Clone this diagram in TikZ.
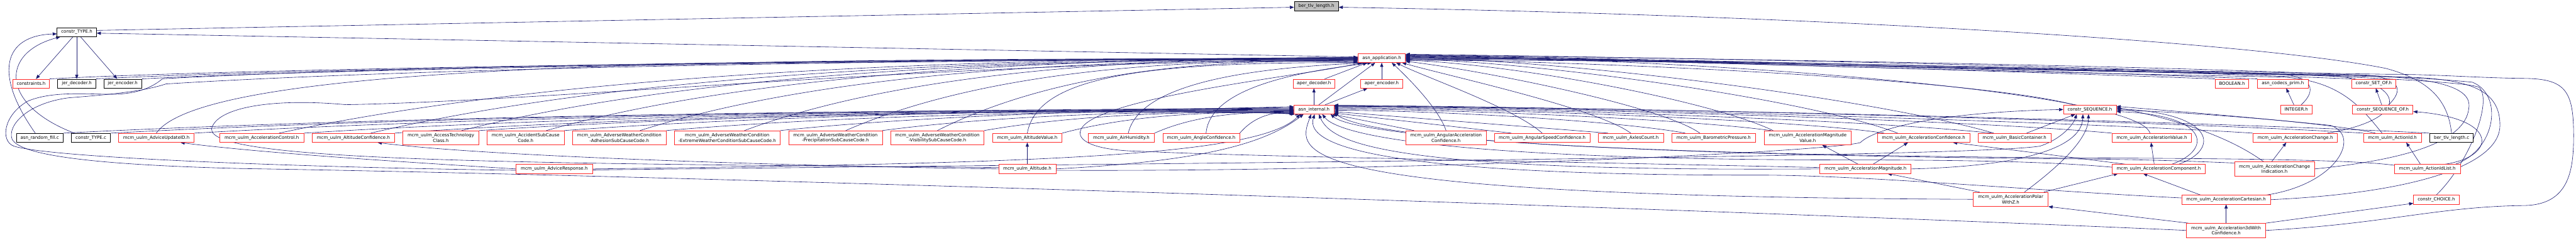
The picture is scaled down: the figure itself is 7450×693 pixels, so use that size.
\documentclass[tikz,border=0pt]{standalone}
\usepackage{fontspec}
\newfontfamily\nf{DejaVu Sans}
\usetikzlibrary{arrows.meta,calc}
\definecolor{ec}{HTML}{191970}
\definecolor{nr}{HTML}{FF2A2A}
\definecolor{gf}{HTML}{BFBFBF}
\pgfdeclarelayer{bg}
\pgfsetlayers{bg,main}
\begin{document}
\begin{tikzpicture}[x=0.5pt,y=0.5pt,
 nb/.style={draw, line width=0.6pt, fill=white, inner xsep=2pt, inner ysep=0pt, minimum height=13pt, align=center, font=\nf\fontsize{6.4}{7.5}\selectfont},
 rn/.style={nb, draw=nr},
 bn/.style={nb, draw=black},
 gn/.style={nb, draw=black, fill=gf},
 dl/.style={minimum height=20.5pt},
 e/.style={draw=ec, line width=0.55pt, -{Triangle[length=6pt,width=4.6pt]}}]
\useasboundingbox (0,0) rectangle (7450,693);
% ---------- nodes
\node[gn, minimum width=64pt] (berh) at (3807,675) {ber\_tlv\_length.h};
\node[bn, minimum width=57pt] (ctypeh) at (222,600) {constr\_TYPE.h};
\node[rn, minimum width=68.5pt] (app) at (3996,525) {asn\_application.h};
\node[rn, minimum width=53pt] (constraints) at (90,451) {constraints.h};
\node[bn, minimum width=55pt] (jerdec) at (222,451) {jer\_decoder.h};
\node[bn, minimum width=55pt] (jerenc) at (355,451) {jer\_encoder.h};
\node[rn, minimum width=60.5pt] (aperdec) at (3800,451) {aper\_decoder.h};
\node[rn, minimum width=60.5pt] (aperenc) at (3996,451) {aper\_encoder.h};
\node[rn, minimum width=48.5pt] (boolean) at (6455,451) {BOOLEAN.h};
\node[rn, minimum width=73pt] (codecsprim) at (6602,451) {asn\_codecs\_prim.h};
\node[rn, minimum width=64pt] (setof) at (6865,451) {constr\_SET\_OF.h};
\node[rn, minimum width=57.5pt] (internal) at (3800,376) {asn\_internal.h};
\node[rn, minimum width=76.5pt] (cseq) at (6044,376) {constr\_SEQUENCE.h};
\node[rn, minimum width=45pt] (integer) at (6641,376) {INTEGER.h};
\node[rn, minimum width=87.5pt] (seqof) at (6891,376) {constr\_SEQUENCE\_OF.h};
\node[bn, minimum width=67.5pt] (randfill) at (115,294) {asn\_random\_fill.c};
\node[bn, minimum width=56.5pt] (ctypec) at (263,294) {constr\_TYPE.c};
\node[rn, minimum width=109.5pt] (adviceupd) at (452,294) {mcm\_uulm\_AdviceUpdateID.h};
\node[rn, minimum width=121.5pt] (accctrl) at (757,294) {mcm\_uulm\_AccelerationControl.h};
\node[rn, minimum width=119pt] (altconf) at (1022,294) {mcm\_uulm\_AltitudeConfidence.h};
\node[rn, dl, minimum width=110.5pt] (accesstech) at (1275,294) {mcm\_uulm\_AccessTechnology\\Class.h};
\node[rn, dl, minimum width=111.5pt] (accident) at (1520,294) {mcm\_uulm\_AccidentSubCause\\Code.h};
\node[rn, dl, minimum width=135.5pt] (adhesion) at (1791,294) {mcm\_uulm\_AdverseWeatherCondition\\-AdhesionSubCauseCode.h};
\node[rn, dl, minimum width=153.5pt] (extreme) at (2103,294) {mcm\_uulm\_AdverseWeatherCondition\\-ExtremeWeatherConditionSubCauseCode.h};
\node[rn, dl, minimum width=135.5pt] (precip) at (2416,294) {mcm\_uulm\_AdverseWeatherCondition\\-PrecipitationSubCauseCode.h};
\node[rn, dl, minimum width=135pt] (visib) at (2711,294) {mcm\_uulm\_AdverseWeatherCondition\\-VisibilitySubCauseCode.h};
\node[rn, minimum width=100.5pt] (altval) at (2971,294) {mcm\_uulm\_AltitudeValue.h};
\node[rn, minimum width=95.5pt] (airhum) at (3243,294) {mcm\_uulm\_AirHumidity.h};
\node[rn, minimum width=111pt] (angleconf) at (3474,294) {mcm\_uulm\_AngleConfidence.h};
\node[rn, dl, minimum width=117pt] (angaccconf) at (4182,294) {mcm\_uulm\_AngularAcceleration\\Confidence.h};
\node[rn, minimum width=138.5pt] (angspd) at (4460,294) {mcm\_uulm\_AngularSpeedConfidence.h};
\node[rn, minimum width=94.5pt] (axles) at (4716,294) {mcm\_uulm\_AxlesCount.h};
\node[rn, minimum width=121.5pt] (baro) at (4956,294) {mcm\_uulm\_BarometricPressure.h};
\node[rn, dl, minimum width=125.5pt] (accmagval) at (5228,294) {mcm\_uulm\_AccelerationMagnitude\\Value.h};
\node[rn, minimum width=133.5pt] (accconf) at (5563,294) {mcm\_uulm\_AccelerationConfidence.h};
\node[rn, minimum width=105pt] (basic) at (5826,294) {mcm\_uulm\_BasicContainer.h};
\node[rn, minimum width=115pt] (accval) at (6223,294) {mcm\_uulm\_AccelerationValue.h};
\node[rn, minimum width=122pt] (accchg) at (6638,294) {mcm\_uulm\_AccelerationChange.h};
\node[rn, minimum width=83.5pt] (actionid) at (6919,294) {mcm\_uulm\_ActionId.h};
\node[bn, minimum width=63pt] (berc) at (7090,294) {ber\_tlv\_length.c};
\node[rn, minimum width=110.5pt] (adviceresp) at (1603,204) {mcm\_uulm\_AdviceResponse.h};
\node[rn, minimum width=82.5pt] (altitude) at (2971,204) {mcm\_uulm\_Altitude.h};
\node[rn, minimum width=132pt] (accmag) at (5395,204) {mcm\_uulm\_AccelerationMagnitude.h};
\node[rn, minimum width=135pt] (acccomp) at (6243,204) {mcm\_uulm\_AccelerationComponent.h};
\node[rn, dl, minimum width=116pt] (accchgind) at (6578,204) {mcm\_uulm\_AccelerationChange\\Indication.h};
\node[rn, minimum width=95.5pt] (actionidlist) at (7020,204) {mcm\_uulm\_ActionIdList.h};
\node[rn, dl, minimum width=108.5pt] (accpolar) at (5815,116) {mcm\_uulm\_AccelerationPolar\\WithZ.h};
\node[rn, minimum width=128.5pt] (acccart) at (6438,115) {mcm\_uulm\_AccelerationCartesian.h};
\node[rn, minimum width=66pt] (cchoice) at (7046,115) {constr\_CHOICE.h};
\node[rn, dl, minimum width=114.5pt] (acc3d) at (6438,26) {mcm\_uulm\_Acceleration3dWith\\Confidence.h};
% ---------- edges
\begin{pgfonlayer}{bg}
% root and top
\draw[e] ($(ctypeh.east)+(0,5)$) -- ($(berh.west)+(0,-3)$);
\draw[e] (berc.north) .. controls (7080,400) and (7030,460) .. (6900,495) .. controls (6500,575) and (5200,650) .. ($(berh.east)+(0,-3)$);
\draw[e] ($(app.west)+(0,3)$) -- ($(ctypeh.east)+(0,-3)$);
\draw[e] ($(ctypeh.south)+(-11,0)$) -- ($(constraints.north)+(14,0)$);
\draw[e] (ctypeh.south) -- (jerdec.north);
\draw[e] ($(ctypeh.south)+(11,0)$) -- ($(jerenc.north)+(-16,0)$);
\draw[e] (constraints.north east) .. controls (700,495) and (2500,522) .. (app.182);
\draw[e] (jerdec.north east) .. controls (800,493) and (2500,522) .. (app.180);
\draw[e] (jerenc.north east) .. controls (900,492) and (2600,523) .. (app.184);
\draw[e] ($(randfill.north)+(-13,0)$) .. controls (-20,480) and (10,590) .. ($(ctypeh.west)+(0,-5)$);
\draw[e] ($(ctypec.north)+(-48,0)$) .. controls (0,390) and (0,540) .. ($(ctypeh.south west)+(10,0)$);
\draw[e] (randfill.north east) .. controls (1251,362) and (2674,374) .. (internal.176);
\draw[e] (ctypec.north east) .. controls (1347,362) and (2715,374) .. (internal.178);
% aper / internal
\draw[e] ($(aperdec.north)+(31,0)$) -- ($(app.south west)+(27,0)$);
\draw[e] (aperenc.north) -- (app.south);
\draw[e] (internal.north) -- (aperdec.south);
\draw[e] ($(internal.north east)+(-26,0)$) -- ($(aperenc.south west)+(20,0)$);
\draw[e] ($(internal.north)+(14,0)$) -- ($(app.south)+(-19,0)$);
% left group -> app
\draw[e] (adviceupd.north) .. controls (600,520) and (2200,522) .. (app.181);
\draw[e] ($(accctrl.north)+(50,0)$) .. controls (1708,500) and (2977,524) .. (app.179);
\draw[e] ($(altconf.north)+(50,0)$) .. controls (1894,500) and (3056,524) .. (app.183);
\draw[e] ($(accesstech.north)+(60,0)$) .. controls (2071,500) and (3132,524) .. (app.185);
\draw[e] ($(accident.north)+(60,0)$) .. controls (2242,500) and (3206,524) .. (app.180);
\draw[e] ($(adhesion.north)+(60,0)$) .. controls (2432,500) and (3287,524) .. (app.187);
\draw[e] ($(extreme.north)+(50,0)$) .. controls (2651,500) and (3381,524) .. (app.178);
\draw[e] ($(precip.north)+(30,0)$) .. controls (2870,500) and (3474,524) .. (app.189);
\draw[e] (visib.north) .. controls (3076,500) and (3563,524) .. (app.190);
\draw[e] (altval.north) .. controls (3000,470) and (3300,515) .. (app.195);
\draw[e] ($(airhum.north)+(20,0)$) .. controls (3300,470) and (3700,500) .. (app.200);
\draw[e] ($(angleconf.north)+(14,0)$) .. controls (3500,450) and (3800,490) .. (app.205);
% left group -> internal
\draw[e] (adviceupd.north east) .. controls (1516,362) and (2788,374) .. (internal.180);
\draw[e] (accctrl.north east) .. controls (1738,362) and (2883,374) .. (internal.182);
\draw[e] (altconf.north east) .. controls (1921,362) and (2962,374) .. (internal.184);
\draw[e] (accesstech.north east) .. controls (2093,362) and (3035,374) .. (internal.186);
\draw[e] (accident.north east) .. controls (2265,362) and (3109,374) .. (internal.174);
\draw[e] (adhesion.north east) .. controls (2472,362) and (3198,374) .. (internal.188);
\draw[e] (extreme.north east) .. controls (2703,362) and (3297,374) .. (internal.172);
\draw[e] (precip.north east) .. controls (2909,362) and (3385,374) .. (internal.190);
\draw[e] (visib.north east) .. controls (3115,362) and (3473,374) .. (internal.192);
\draw[e] (altval.north east) .. controls (3273,362) and (3541,374) .. (internal.194);
\draw[e] (airhum.north east) .. controls (3460,362) and (3621,374) .. (internal.198);
\draw[e] (angleconf.north east) .. controls (3632,362) and (3695,374) .. (internal.205);
% right group -> app
\draw[e] (angaccconf.north) .. controls (4160,380) and (4070,470) .. (app.-25);
\draw[e] (angspd.north) .. controls (4380,380) and (4120,470) .. (app.-18);
\draw[e] (axles.north) .. controls (4620,380) and (4180,475) .. (app.-13);
\draw[e] ($(baro.north)+(-40,0)$) .. controls (4800,390) and (4250,495) .. (app.-8);
\draw[e] ($(accmagval.north)+(-100,0)$) .. controls (4950,400) and (4400,505) .. (app.-5);
\draw[e] ($(accconf.north)+(-75,0)$) .. controls (5250,400) and (4500,510) .. (app.-2);
\draw[e] ($(basic.north)+(-60,0)$) .. controls (5450,400) and (4600,515) .. (app.1);
\draw[e] ($(accval.north)+(-5,0)$) .. controls (6180,430) and (4900,525) .. (app.4);
\draw[e] ($(accchg.north east)+(-30,0)$) .. controls (6990,350) and (6960,470) .. (6700,476) .. controls (5600,492) and (4600,526) .. (app.6);
\draw[e] ($(actionid.north)+(-30,0)$) .. controls (6830,380) and (6770,460) .. (6600,470) .. controls (5500,490) and (4600,525) .. (app.3);
\draw[e] ($(cseq.north west)+(30,0)$) .. controls (5800,445) and (5000,505) .. (app.-3);
\draw[e] (boolean.north west) .. controls (6000,480) and (4800,520) .. (app.2);
\draw[e] (codecsprim.north west) .. controls (6100,482) and (4900,522) .. (app.0);
\draw[e] (setof.north west) .. controls (6300,485) and (5000,523) .. (app.-1);
\draw[e] ($(integer.north)+(14,0)$) .. controls (6700,430) and (6690,470) .. (6600,478) .. controls (5500,495) and (4700,525) .. (app.5);
\draw[e] ($(seqof.north)+(17,0)$) .. controls (6950,430) and (6945,465) .. (6850,475) .. controls (5800,495) and (4700,525) .. (app.7);
\draw[e] ($(actionidlist.north east)+(-15,0)$) .. controls (7220,260) and (7240,420) .. (7150,455) .. controls (6700,500) and (4800,525) .. (app.8);
\draw[e] (cchoice.north) .. controls (7140,220) and (7210,400) .. (7170,440) .. controls (7100,480) and (5000,525) .. (app.9);
\draw[e] (acccart.east) .. controls (7000,135) and (7230,220) .. (7230,330) .. controls (7230,430) and (7150,465) .. (6950,470) .. controls (5800,490) and (4700,525) .. (app.-6);
\draw[e] (accchgind.east) .. controls (6950,230) and (7130,280) .. (7140,380) .. controls (7150,440) and (7050,470) .. (6800,475) .. controls (5600,495) and (4700,525) .. (app.-4);
\draw[e] (acc3d.east) .. controls (6900,45) and (7050,95) .. (7300,98) .. controls (7430,100) and (7443,200) .. (7443,300) .. controls (7443,430) and (7420,465) .. (7300,466) .. controls (7150,468) and (7050,478) .. (6900,478) .. controls (5800,495) and (4700,526) .. (app.east);
% right group -> internal
\draw[e] ($(angaccconf.north west)+(25,0)$) -- ($(internal.south east)+(-5,0)$);
\draw[e] ($(angspd.north west)+(50,0)$) -- (internal.-10);
\draw[e] ($(axles.north west)+(30,0)$) -- (internal.-6);
\draw[e] ($(baro.north west)+(40,0)$) .. controls (4700,340) and (4200,372) .. (internal.-2);
\draw[e] ($(accmagval.north west)+(20,0)$) .. controls (4900,345) and (4300,374) .. (internal.2);
\draw[e] ($(accconf.north west)+(20,0)$) .. controls (5200,345) and (4400,376) .. (internal.5);
\draw[e] ($(basic.north west)+(40,0)$) .. controls (5400,345) and (4500,377) .. (internal.8);
\draw[e] (accval.north west) .. controls (5700,345) and (4600,378) .. (internal.10);
\draw[e] (accchg.north west) .. controls (6000,340) and (4700,380) .. (internal.11);
\draw[e] (actionid.north west) .. controls (6300,340) and (4800,381) .. (internal.12);
\draw[e] (berc.north west) .. controls (6500,335) and (4900,382) .. (internal.9);
% right small nodes
\draw[e] ($(integer.north)+(-7,0)$) -- ($(codecsprim.south)+(10,0)$);
\draw[e] ($(seqof.north)+(-3,0)$) -- ($(setof.south)+(6,0)$);
\draw[e] ($(basic.north)+(35,0)$) -- ($(cseq.south west)+(35,0)$);
\draw[e] ($(actionid.north west)+(35,0)$) .. controls (6750,335) and (6400,362) .. ($(cseq.east)+(0,9)$);
% altitude
\draw[e] (altitude.north) -- (altval.south);
\draw[e] (altitude.west) .. controls (2300,212) and (1400,240) .. ($(altconf.south)+(70,0)$);
\draw[e] ($(altitude.west)+(0,4)$) .. controls (1500,220) and (600,225) .. (612,320) .. controls (625,380) and (780,410) .. (1000,390) .. controls (1600,400) and (2800,520) .. (app.186);
\draw[e] (altitude.east) .. controls (3450,225) and (3650,270) .. ($(internal.south)+(-30,0)$);
\draw[e] ($(altitude.east)+(0,-4)$) .. controls (4000,195) and (5250,250) .. (5380,280) .. controls (5420,320) and (5600,368) .. (cseq.west);
% advice response
\draw[e] (adviceresp.west) .. controls (1200,222) and (750,250) .. ($(adviceupd.south)+(70,0)$);
\draw[e] ($(adviceresp.west)+(0,-4)$) .. controls (900,208) and (150,235) .. (40,270) .. controls (0,285) and (10,360) .. (80,400) .. controls (150,430) and (250,420) .. (330,420) .. controls (400,422) and (440,440) .. (470,465) .. controls (1200,505) and (2600,523) .. (app.181);
\draw[e] (adviceresp.east) .. controls (3000,220) and (3640,240) .. ($(internal.south)+(-40,0)$);
\draw[e] ($(adviceresp.east)+(0,-3)$) .. controls (3500,222) and (5700,238) .. (5900,270) .. controls (5960,290) and (5995,330) .. ($(cseq.south)+(-38,0)$);
% acceleration magnitude
\draw[e] ($(accmag.north)+(-21,0)$) -- ($(accmagval.south)+(42,0)$);
\draw[e] ($(accmag.north)+(22,0)$) -- ($(accconf.south)+(-45,0)$);
\draw[e] (accmag.east) .. controls (5850,212) and (6020,265) .. ($(cseq.south)+(-20,0)$);
\draw[e] (accmag.west) .. controls (4000,195) and (3850,280) .. ($(internal.south)+(14,0)$);
\draw[e] ($(accmag.west)+(0,4)$) .. controls (4500,225) and (3600,240) .. (3300,255) .. controls (3100,258) and (3080,320) .. (3190,362) .. controls (3350,430) and (3800,480) .. ($(app.south west)+(12,0)$);
% acceleration component
\draw[e] ($(acccomp.north)+(-13,0)$) -- ($(accval.south)+(-2,0)$);
\draw[e] ($(acccomp.north west)+(40,0)$) -- ($(accconf.south)+(85,0)$);
\draw[e] ($(acccomp.north)+(38,0)$) .. controls (6400,260) and (6390,360) .. ($(cseq.east)+(0,-6)$);
\draw[e] ($(acccomp.north)+(58,0)$) .. controls (6420,260) and (6410,365) .. ($(cseq.east)+(0,2)$);
\draw[e] ($(acccomp.west)+(0,5)$) .. controls (5900,228) and (5600,230) .. (5300,230) .. controls (4300,232) and (3880,290) .. ($(internal.south)+(24,0)$);
% change indication
\draw[e] ($(accchgind.north)+(-8,0)$) -- ($(accchg.south)+(-26,0)$);
\draw[e] ($(accchgind.north west)+(85,0)$) .. controls (6470,280) and (6350,335) .. ($(cseq.east)+(0,6)$);
\draw[e] ($(accchgind.north west)+(0,-4)$) .. controls (6300,228) and (6150,232) .. (6000,233) .. controls (4600,245) and (3920,300) .. ($(internal.south east)+(-10,0)$);
% action id list
\draw[e] ($(actionidlist.north)+(-20,0)$) -- ($(actionid.south)+(40,0)$);
\draw[e] ($(actionidlist.north east)+(-45,0)$) .. controls (7220,240) and (7230,350) .. ($(seqof.east)+(0,-6)$);
\draw[e] ($(actionidlist.north west)+(0,-3)$) .. controls (6800,232) and (6400,234) .. (6000,236) .. controls (4500,247) and (3950,300) .. ($(internal.south east)+(0,4)$);
% polar
\draw[e] ($(accpolar.north west)+(19,0)$) -- ($(accmag.south)+(64,0)$);
\draw[e] ($(accpolar.north)+(40,0)$) .. controls (5980,230) and (6040,300) .. ($(cseq.south)+(-4,0)$);
\draw[e] ($(accpolar.north east)+(-13,0)$) -- ($(acccomp.south west)+(18,0)$);
\draw[e] (accpolar.west) .. controls (3700,125) and (3750,250) .. ($(internal.south)+(-8,0)$);
% cartesian
\draw[e] ($(acccart.north west)+(55,0)$) -- ($(acccomp.south)+(-45,0)$);
\draw[e] ($(acccart.north east)+(-12,0)$) .. controls (6760,160) and (6830,300) .. (6740,330) .. controls (6500,355) and (6250,372) .. ($(cseq.east)+(0,-2)$);
\draw[e] ($(acccart.west)+(0,5)$) .. controls (5900,140) and (5400,185) .. (5100,186) .. controls (4300,185) and (3760,230) .. ($(internal.south)+(2,0)$);
% 3d
\draw[e] (acc3d.north) -- (acccart.south);
\draw[e] (acc3d.north east) -- ($(cchoice.south west)+(0,3)$);
\draw[e] ($(acc3d.north west)+(6,0)$) -- (accpolar.south east);
\draw[e] (acc3d.west) .. controls (5000,85) and (2000,185) .. (700,205) .. controls (300,215) and (60,240) .. (35,290) .. controls (20,330) and (80,395) .. (200,410) .. controls (330,420) and (420,430) .. (480,450) .. controls (1200,495) and (2600,522) .. (app.183);
\end{pgfonlayer}
\end{tikzpicture}
\end{document}
